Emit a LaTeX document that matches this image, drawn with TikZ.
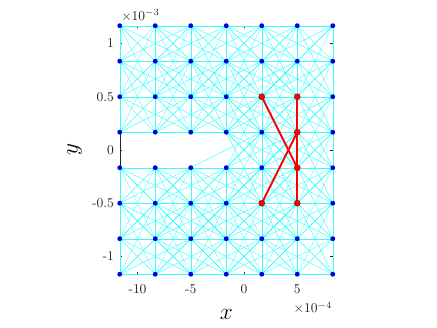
\documentclass[tikz,border=0pt]{standalone}
\usepackage{tikz}
\definecolor{bondcyan}{rgb}{0,1,1}
\definecolor{axisgrey}{rgb}{0.15,0.15,0.15}

\begin{document}
\begin{tikzpicture}[x=0.2776cm,y=0.2776cm,
  axisline/.style={draw=axisgrey,line width=0.3pt},
  bond/.style={bondcyan!80!white,line width=0.3pt},
  hotbond/.style={red,line width=1.4pt},
  dot/.style={circle,fill=blue!85!black,inner sep=0pt,minimum size=3.6pt},
  reddot/.style={circle,draw=red!75!black,fill=red,line width=0.4pt,inner sep=0pt,minimum size=4.4pt},
  ticklabel/.style={inner sep=0pt,text=axisgrey}]

  \useasboundingbox (-22.91,-16.71) rectangle (18.12,14.08);

  % axes box and ticks
  \draw[axisline] (-35/3,-35/3) rectangle (25/3,35/3);
  \foreach \t in {-10,-5,0,5} {
    \draw[axisline] (\t,-35/3) -- ++(0,0.23);
    \draw[axisline] (\t,35/3) -- ++(0,-0.23);
    \node[ticklabel,anchor=north] (xt\t) at (\t,-12.6) {\t};
  }
  \foreach \t/\lab in {-10/-1,-5/-0.5,0/0,5/0.5,10/1} {
    \draw[axisline] (-35/3,\t) -- ++(0.23,0);
    \draw[axisline] (25/3,\t) -- ++(-0.23,0);
    \node[ticklabel,anchor=east] (yt\t) at (-12.2,\t) {\lab};
  }
  \node[ticklabel,anchor=base west] (yexp) at (-11.55,12.2) {$\times10^{-3}$};
  \node[ticklabel,anchor=base east] (xexp) at (8.3,-15.3) {$\times10^{-4}$};
  \node[inner sep=0pt,font=\fontsize{17}{20}\selectfont] (xlab) at (-5/3,-15.4) {$x$};
  \node[inner sep=0pt,font=\fontsize{17}{20}\selectfont,rotate=90] (ylab) at (-15.9,0) {$y$};

  % particles
  \foreach \i in {0,...,6}
    \foreach \j in {0,...,7}
      \coordinate (\i\j) at ({-35/3+10/3*\i},{-35/3+10/3*\j});

  % bonds, minus those cut by the crack
  \foreach \i in {0,...,6}
    \foreach \j in {0,...,7}
      \foreach \a/\b in {1/0,2/0,3/0,0/1,0/2,0/3,1/1,1/-1,1/2,1/-2,2/1,2/-1,2/2,2/-2} {
        \pgfmathtruncatemacro\toi{\i+\a}
        \pgfmathtruncatemacro\toj{\j+\b}
        \pgfmathtruncatemacro\inside{and(\toi<7,and(\toj>-1,\toj<8))}
        \ifnum\inside=1
          \pgfmathtruncatemacro\cut{0}
          \pgfmathtruncatemacro\across{(\j-3.5)*(\toj-3.5)<0}
          \ifnum\across=1
            \pgfmathtruncatemacro\cut{\i+\a*(3.5-\j)/(\toj-\j)<3.001}
          \fi
          \ifnum\cut=0 \draw[bond] (\i\j) -- (\toi\toj); \fi
        \fi
      }
  \draw[bond] (23) -- (44);

  \foreach \i in {0,...,6}
    \foreach \j in {0,...,7}
      \node[dot] (d\i\j) at (\i\j) {};

  \draw[hotbond] (45) -- (53);
  \draw[hotbond] (42) -- (54);
  \draw[hotbond] (55) -- (52);
  \foreach \n in {45,55,54,53,42,52}
    \node[reddot] (r\n) at (\n) {};

\end{tikzpicture}
\end{document}
